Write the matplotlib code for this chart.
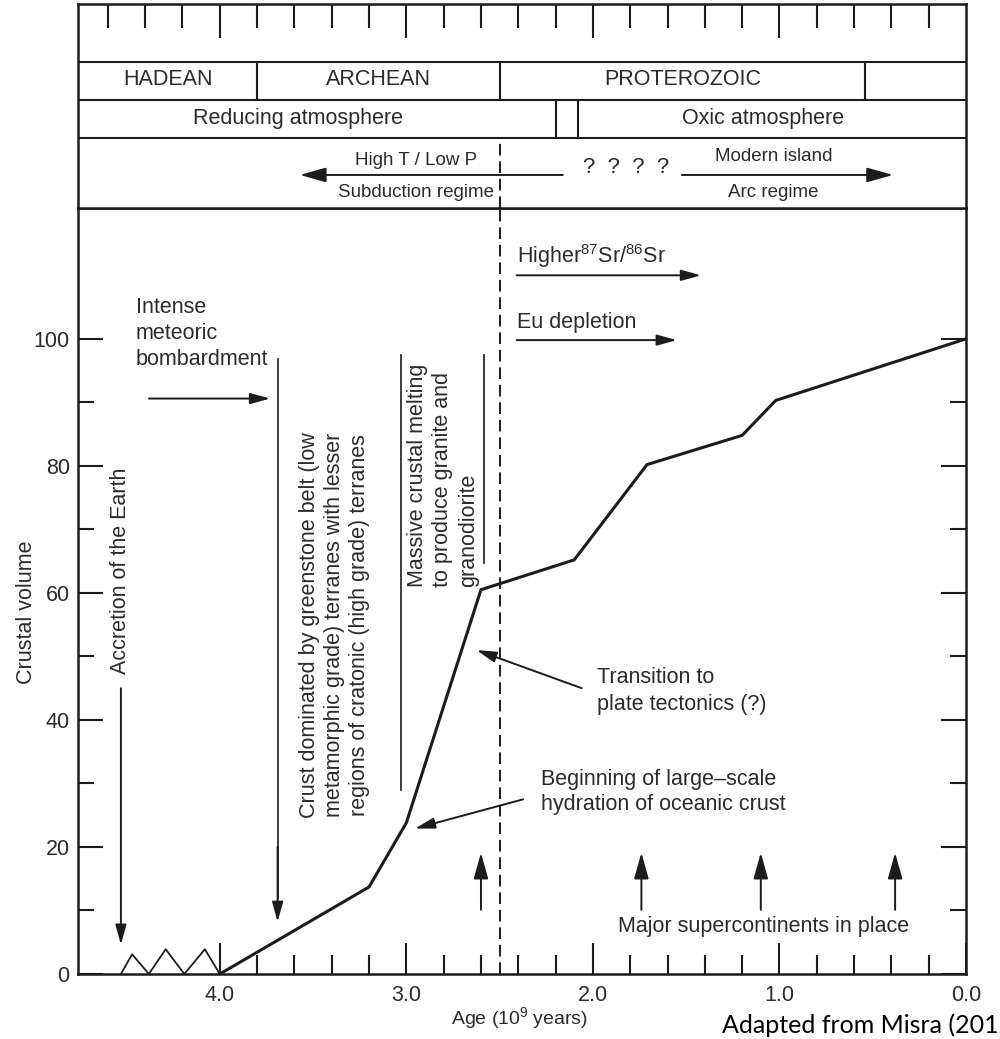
import numpy as np
import matplotlib.pyplot as plt

plt.rcParams['font.family'] = 'Liberation Sans'
plt.rcParams['mathtext.fontset'] = 'custom'
plt.rcParams['mathtext.rm'] = 'Liberation Sans'
plt.rcParams['mathtext.it'] = 'Liberation Sans:italic'

INK = '#1c1c1c'
TXT = '#2b2b2b'

# crustal growth curve: age (10^9 yr) vs crustal volume (% of present)
age = [4.0, 3.2, 3.0, 2.6, 2.1, 1.71, 1.2, 1.02, 0.0]
volume = [0, 13.7, 23.8, 60.5, 65.2, 80.2, 84.8, 90.3, 100]

# recycled early crust during accretion
accr_age = [4.53, 4.47, 4.38, 4.29, 4.19, 4.08, 4.0]
accr_vol = [0, 3.1, 0, 3.9, 0, 3.9, 0]

eras = ['HADEAN', 'ARCHEAN', 'PROTEROZOIC']
era_edges = [4.76, 3.8, 2.5, 0.54]
atm_breaks = [2.2, 2.08]
supercontinents = [2.6, 1.74, 1.1, 0.38]
boundary = 2.5

minor_x = [4.6, 4.4, 4.2, 3.8, 3.6, 3.4, 3.2, 2.8, 2.6, 2.4, 2.2,
           1.8, 1.6, 1.4, 1.2, 0.8, 0.6, 0.4, 0.2]

W, H = 1000, 1039


def box(l, t, r, b):
    return [l / W, 1 - b / H, (r - l) / W, (b - t) / H]


def arrow(axis, tail, tip, coords='data', hl=0.8, hw=0.22, ms=15):
    axis.annotate('', xy=tip, xytext=tail, xycoords=coords, textcoords=coords,
                  arrowprops=dict(arrowstyle=f'-|>,head_length={hl},head_width={hw}',
                                  color=INK, lw=1.4, shrinkA=0, shrinkB=0,
                                  mutation_scale=ms))


fig = plt.figure(figsize=(10, 10.39), dpi=100)
ax = fig.add_axes(box(78, 208, 966, 974))
top = fig.add_axes(box(78, 4, 966, 208))

# ---- main panel ----
ax.plot(age, volume, color=INK, lw=2.2, solid_joinstyle='miter')
ax.plot(accr_age, accr_vol, color=INK, lw=1.3)
ax.axvline(boundary, ls=(0, (6, 3)), lw=1.4, color=INK)
ax.set_xlim(4.76, 0)
ax.set_ylim(0, 120.6)

for s in ax.spines.values():
    s.set_linewidth(1.8)
    s.set_color(INK)

fs = 15.5

ax.set_xticks([4, 3, 2, 1, 0])
ax.set_xticklabels(['4.0', '3.0', '2.0', '1.0', '0.0'])
ax.set_xticks(minor_x[3:], minor=True)
ax.set_yticks([0, 20, 40, 60, 80, 100])
ax.set_yticks([10, 30, 50, 70, 90], minor=True)
ax.tick_params(which='both', direction='in', width=1.5, color=INK,
               labelcolor=TXT, labelsize=fs)
ax.tick_params(axis='x', which='major', length=22, pad=8)
ax.tick_params(axis='x', which='minor', length=13.5)
ax.tick_params(axis='y', which='both', left=True, right=True, pad=6)
ax.tick_params(axis='y', which='major', length=18)
ax.tick_params(axis='y', which='minor', length=11.5)

ax.text(4.45, 100.8, 'Intense\nmeteoric\nbombardment', fontsize=fs, color=TXT,
        va='center', ha='left', linespacing=1.3)
arrow(ax, (4.38, 90.6), (3.73, 90.6))

ax.text(4.53, 63.5, 'Accretion of the Earth', rotation=90, fontsize=fs,
        color=TXT, ha='center', va='center')
arrow(ax, (4.53, 45.0), (4.53, 4.6))

ax.plot([3.69, 3.69], [96.9, 12], color=INK, lw=1.2)
arrow(ax, (3.69, 20), (3.69, 8.2))
ax.text(3.383, 55, 'Crust dominated by greenstone belt (low\n'
        'metamorphic grade) terranes with lesser\n'
        'regions of cratonic (high grade) terranes',
        rotation=90, fontsize=fs, color=TXT, ha='center', va='center',
        multialignment='center', linespacing=1.25)

ax.plot([3.026, 3.026], [97.5, 29], color=INK, lw=1.2)
ax.plot([2.584, 2.584], [97.5, 64.7], color=INK, lw=1.2)
ax.text(2.804, 61, 'Massive crustal melting\nto produce granite and\ngranodiorite',
        rotation=90, fontsize=fs, color=TXT, ha='center', va='bottom',
        multialignment='left', linespacing=1.3)

ax.text(2.409, 113, 'Higher$^{87}$Sr/$^{86}$Sr', fontsize=fs, color=TXT,
        ha='left', va='center')
arrow(ax, (2.409, 110), (1.42, 110))
ax.text(2.409, 102.5, 'Eu depletion', fontsize=fs, color=TXT,
        ha='left', va='center')
arrow(ax, (2.409, 99.8), (1.55, 99.8))

ax.text(1.98, 44.6, 'Transition to\nplate tectonics (?)', fontsize=fs,
        color=TXT, ha='left', va='center', linespacing=1.4)
arrow(ax, (2.06, 45.0), (2.624, 51.0))

ax.text(2.279, 28.6, 'Beginning of large\u2013scale\nhydration of oceanic crust',
        fontsize=fs, color=TXT, ha='left', va='center', linespacing=1.25)
arrow(ax, (2.374, 27.5), (2.954, 22.9))

for a in supercontinents:
    arrow(ax, (a, 10.1), (a, 19.1), hl=1.0, hw=0.28, ms=16)
ax.text(1.866, 7.4, 'Major supercontinents in place', fontsize=fs,
        color=TXT, ha='left', va='center')

# ---- time-scale panel ----
top.set_xlim(4.76, 0)
top.set_ylim(0, 1)
top.set_yticks([])
top.set_xticks([4, 3, 2, 1])
top.set_xticks(minor_x, minor=True)
top.tick_params(which='both', top=True, bottom=False, labeltop=False,
                labelbottom=False, direction='in', width=1.5, color=INK)
top.tick_params(which='major', length=24.5)
top.tick_params(which='minor', length=17)
for s in top.spines.values():
    s.set_linewidth(1.8)
    s.set_color(INK)

row = [0.343, 0.529, 0.716]
for y in row:
    top.axhline(y, color=INK, lw=1.5)

for e in era_edges[1:]:
    top.plot([e, e], [row[1], row[2]], color=INK, lw=1.5)
for name, a, b in zip(eras, era_edges[:-1], era_edges[1:]):
    top.text((a + b) / 2, 0.632, name, fontsize=fs, color=TXT,
             ha='center', va='center')

for a in atm_breaks:
    top.plot([a, a], [row[0], row[1]], color=INK, lw=1.5)
top.text(3.582, 0.441, 'Reducing atmosphere', fontsize=fs, color=TXT,
         ha='center', va='center')
top.text(1.088, 0.441, 'Oxic atmosphere', fontsize=fs, color=TXT,
         ha='center', va='center')

sub = 13.5
top.plot([boundary, boundary], [0, row[0]], ls=(0, (6, 3)), lw=1.4, color=INK)
top.text(2.949, 0.235, 'High T / Low P', fontsize=sub, color=TXT,
         ha='center', va='center')
top.text(2.949, 0.078, 'Subduction regime', fontsize=sub, color=TXT,
         ha='center', va='center')
arrow(top, (2.161, 0.162), (3.571, 0.162), hl=1.0, hw=0.28, ms=16)
top.text(1.823, 0.2, '?  ?  ?  ?', fontsize=16, color=TXT,
         ha='center', va='center')
arrow(top, (1.523, 0.162), (0.391, 0.162), hl=1.0, hw=0.28, ms=16)
top.text(1.03, 0.25, 'Modern island', fontsize=sub, color=TXT,
         ha='center', va='center')
top.text(1.035, 0.078, 'Arc regime', fontsize=sub, color=TXT,
         ha='center', va='center')

# ---- axis titles and source ----
fig.text(27 / W, 1 - 612 / H, 'Crustal volume', rotation=90, fontsize=fs,
         color=TXT, ha='center', va='center')
fig.text(519 / W, 1 - 1018 / H, 'Age (10$^9$ years)', fontsize=14,
         color=TXT, ha='center', va='center')
fig.text(722 / W, 1 - 1025 / H, 'Adapted from Misra (2012)', fontsize=18,
         family='Lato', color='black', ha='left', va='center')

fig.savefig('out.png', dpi=100, facecolor='white')
